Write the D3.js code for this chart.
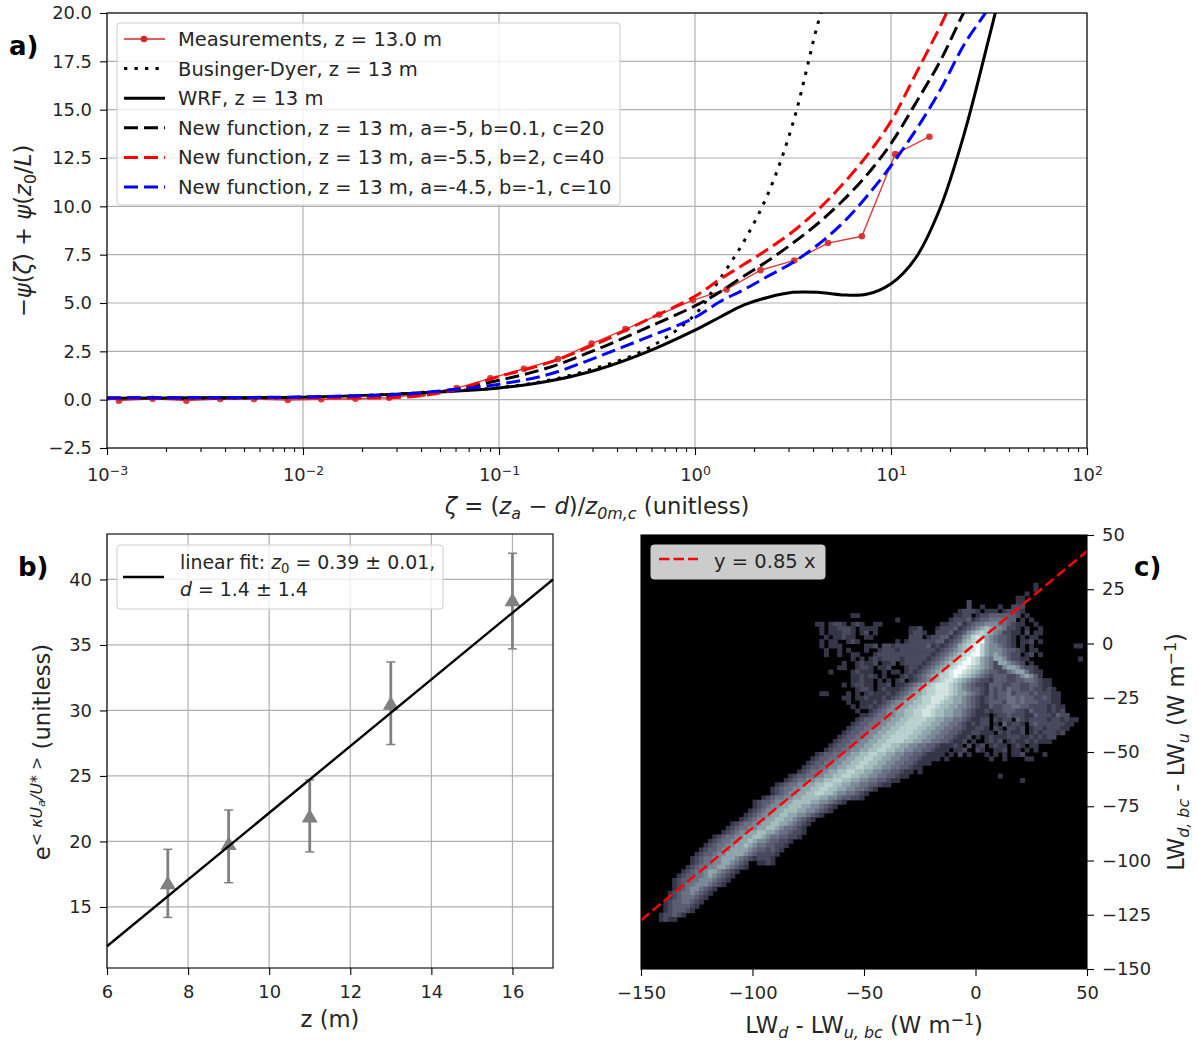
<!DOCTYPE html>
<html lang="en">
<head>
<meta charset="UTF-8">
<title>Stability function, roughness fit and longwave comparison</title>
<script src="https://d3js.org/d3.v7.min.js"></script>
<style>
  body { margin: 0; background: #fff; }
  svg text { font-family: "DejaVu Sans", sans-serif; fill: #262626; }
  .grid line { stroke: #b0b0b0; stroke-width: 1.2px; }
  .axis path, .axis line { stroke: #000; stroke-width: 1.1px; }
  .axis text { font-size: 17.9px; }
  .lab { font-size: 22.7px; }
  .leg { font-size: 19.5px; }
  .tag { font-size: 26px; font-weight: bold; fill: #000; }
</style>
</head>
<body>
<svg id="chart" width="1198" height="1041"></svg>
<script>
// ---- panel a data
const measX = [0.00115, 0.00171, 0.00254, 0.00378, 0.00562, 0.00836, 0.0124, 0.0185, 0.0275, 0.0409, 0.0608, 0.0904, 0.134, 0.2, 0.297, 0.442, 0.657, 0.977, 1.45, 2.16, 3.21, 4.77, 7.1, 10.5, 15.7];
const measY = [-0.05, 0.05, -0.05, 0.03, 0.03, -0.02, 0.02, 0.05, 0.1, 0.3, 0.6, 1.1, 1.6, 2.1, 2.9, 3.65, 4.4, 5.15, 5.7, 6.7, 7.2, 8.1, 8.45, 12.7, 13.6];
const curveX = [0.001, 0.00316, 0.01, 0.0316, 0.0562, 0.1, 0.178, 0.316, 0.562, 1, 1.33, 1.78, 2.37, 3.16, 4.22, 5.62, 7.5, 10, 13.3, 17.8, 23.7, 31.6, 36];
const wrfY = [0.07, 0.1, 0.13, 0.3, 0.42, 0.6, 0.95, 1.55, 2.45, 3.6, 4.25, 4.9, 5.3, 5.55, 5.55, 5.42, 5.45, 6.0, 7.3, 9.9, 13.8, 18.7, 21];
const newBlackY = [0.08, 0.1, 0.12, 0.2, 0.5, 1.0, 1.65, 2.6, 3.7, 4.85, 5.55, 6.4, 7.2, 8.1, 9.1, 10.25, 11.6, 13.25, 15.3, 17.5, 20.1, 22.5, 24];
const newRedY = [0.06, 0.09, 0.12, 0.12, 0.45, 1.2, 1.9, 2.9, 4.1, 5.35, 6.2, 7.0, 7.8, 8.7, 9.8, 11.1, 12.6, 14.4, 16.8, 19.3, 22, 25, 27];
const newBlueY = [0.09, 0.11, 0.14, 0.28, 0.5, 0.8, 1.3, 2.2, 3.2, 4.25, 5.05, 5.7, 6.4, 7.1, 8.0, 9.1, 10.5, 12.1, 13.9, 16, 18.4, 20.3, 21.5];
const bdX = [0.001, 0.00316, 0.01, 0.0316, 0.0562, 0.1, 0.178, 0.316, 0.562, 1, 1.33, 1.78, 2.37, 3.16, 4.22, 4.6];
const bdY = [0.05, 0.08, 0.12, 0.3, 0.45, 0.62, 1.0, 1.65, 2.6, 4.4, 6.2, 8.2, 10.7, 14.3, 19.4, 20.6];

// ---- panel b data
const heightZ = [7.5, 9, 11, 13, 16];
const heightVal = [16.7, 19.7, 21.8, 30.4, 38.3];
const heightLow = [14.2, 16.85, 19.2, 27.4, 34.7];
const heightHigh = [19.4, 22.4, 24.7, 33.7, 42];
const fitZ = [6, 17];
const fitVal = [12, 40];

// ---- panel c data: 2 W/m2 bins, [row from top, first column, density digits]
const heatSegments = [
  [11,88,"1"],[12,88,"1"],[13,86,"1"],[14,84,"11"],[15,73,"2"],[15,84,"11"],
  [16,73,"2"],[16,76,"1"],[16,80,"1"],[16,83,"222"],
  [17,71,"122210111012221"],
  [18,47,"11"],[18,70,"1122"],[18,75,"1223333332"],[18,86,"1"],
  [19,57,"1"],[19,69,"12223"],[19,74,"1233444433"],[19,85,"1010"],
  [20,39,"1101221012100110"],[20,67,"11223"],[20,72,"12344555443"],[20,83,"2110010"],
  [21,40,"10112221011110"],[21,60,"112"],[21,66,"12223"],[21,71,"12345676554"],[21,82,"22101001"],
  [22,40,"1011122101201"],[22,60,"1221"],[22,66,"2223"],[22,70,"12356787654"],[22,81,"221102011"],
  [23,41,"10112110011"],[23,60,"222"],[23,64,"12233"],[23,69,"1235689865"],[23,79,"4332101011"],
  [24,40,"101100121"],[24,57,"1"],[24,59,"122222233"],[24,68,"12346789a65"],[24,79,"43321011201"],
  [25,40,"10111"],[25,50,"112"],[25,54,"22122222223"],[25,65,"12"],[25,67,"12346789a865"],[25,79,"5432101010"],[25,97,"11"],
  [26,41,"100101"],[26,50,"1"],[26,53,"122212222"],[26,62,"2222"],[26,66,"123456789a865"],[26,79,"5543321011"],
  [27,41,"1"],[27,44,"1"],[27,47,"11"],[27,52,"12222222222"],[27,63,"22"],[27,65,"123456789aa865"],[27,79,"65432201201"],
  [28,47,"101"],[28,51,"1212222"],[28,58,"122222"],[28,64,"123456789a98654"],[28,79,"665322110"],[28,98,"1"],
  [29,45,"1"],[29,48,"12112"],[29,54,"112"],[29,58,"1222"],[29,62,"2"],[29,63,"123456789aa98654"],[29,79,"2665432010"],
  [30,44,"11"],[30,48,"1221"],[30,53,"112"],[30,59,"122"],[30,62,"123456789aa987654"],[30,79,"2256653221"],
  [31,42,"1"],[31,47,"12111"],[31,54,"1011"],[31,59,"12"],[31,61,"123456789aa9876543"],[31,79,"32245664211"],
  [32,47,"112121"],[32,54,"1"],[32,58,"12"],[32,60,"1234567889a98765432"],[32,79,"33322356531"],
  [33,47,"11211"],[33,53,"101"],[33,57,"12"],[33,60,"1234567899876543221"],[33,79,"3332233443211"],
  [34,45,"1"],[34,47,"12211"],[34,53,"112"],[34,57,"1"],[34,58,"12345678999876543221"],[34,78,"33322332233211"],
  [35,48,"1221"],[35,53,"1211"],[35,57,"123456788999876543321"],[35,78,"323243322322121"],
  [36,40,"11"],[36,46,"101"],[36,50,"1211"],[36,54,"12"],[36,56,"1234566788999876654321"],[36,78,"3233423332322211"],
  [37,45,"11"],[37,48,"11211"],[37,53,"12"],[37,55,"1234566788999876654321"],[37,77,"232334434332232"],[37,92,"11"],
  [38,46,"1"],[38,49,"11"],[38,51,"12"],[38,53,"123455667788998776654321"],[38,77,"2333244343332221"],[38,93,"1"],
  [39,47,"1"],[39,49,"1"],[39,50,"12"],[39,52,"1234556677889987766554321"],[39,77,"1322334433222212"],[39,93,"11"],
  [40,48,"1"],[40,51,"1234556677889987766554321"],[40,76,"1212233322132221"],[40,92,"212"],
  [41,49,"1"],[41,50,"12344556677889987766554321"],[41,76,"1101223222113222"],[41,92,"1322"],
  [42,48,"123344556677888877665544321"],[42,75,"1220212203212222"],[42,91,"12212110"],
  [43,47,"123344556677888877665544321"],[43,74,"212201031221023222"],[43,92,"22211"],
  [44,46,"1233445566778888776655443321"],[44,74,"122102102212012212"],[44,92,"2211"],
  [45,45,"1233445566778888776655443321"],[45,73,"1221110212112012122"],[45,92,"212"],
  [46,44,"1233445566778888776655443321"],[46,72,"120101211122211212"],[46,90,"122"],
  [47,43,"1233445566778888776655443321"],[47,71,"1201001212012112121"],[47,90,"11"],
  [48,42,"123344556677887766554433211"],[48,69,"12102012012110121"],[48,87,"11"],
  [49,41,"123344556677887766554433211"],[49,68,"101120021001"],[49,80,"1201101"],[49,88,"1"],
  [50,39,"123344556677887766554433211"],[50,66,"11010201"],[50,77,"1"],[50,79,"1"],[50,81,"10112"],[50,90,"1"],
  [51,38,"123344556677887766554433211"],[51,65,"1101"],[51,78,"1"],[51,81,"1"],[51,86,"11"],
  [52,37,"123344556677887766554433211"],[52,64,"1"],
  [53,36,"123344556677887766554433211"],
  [54,35,"12344556677887766554433211"],[54,62,"1"],
  [55,33,"123344556677887766554433211"],[55,80,"1"],
  [56,32,"12344556677887766554433211"],[56,85,"1"],
  [57,30,"12344556677887766554433211"],
  [58,29,"123445566778877665544321"],
  [59,29,"1234556677887765544321"],
  [60,27,"12344556677776655433221"],
  [61,25,"123345566777766554321"],
  [62,25,"1234556677766554321"],
  [63,24,"1234556677766554321"],
  [64,23,"123455667766554321"],
  [65,22,"12345566776654321"],
  [66,20,"123445566776654321"],
  [67,19,"123445566776544321"],
  [68,18,"1234556677665443221"],
  [69,16,"12344556677654433221"],
  [70,15,"1234455667655433221"],
  [71,14,"1234455667654433221"],
  [72,13,"1233455666654332321"],
  [73,12,"1233455666654322221"],
  [74,11,"12344556665432"],[74,25,"12221"],
  [75,11,"1234455665432"],[75,26,"1121"],
  [76,10,"12344556654321"],
  [77,9,"1234456654321"],
  [78,8,"1233445654321"],
  [79,7,"1233445554321"],
  [80,7,"123445554321"],
  [81,7,"1234554321"],
  [82,6,"1234454321"],
  [83,6,"123444321"],
  [84,5,"123344321"],
  [85,5,"12333321"],
  [86,5,"1233321"],
  [87,4,"122321"],
  [88,4,"1211"]
];
const heatLevels = ["1", "2", "3", "4", "5", "6", "7", "8", "9", "a"];
const heatColors = ["#363648", "#4a4a5e", "#5b5d72", "#6b7083", "#7c8a98", "#90a6ac", "#a5bfbf", "#bad3d0", "#d2e5e2", "#f6fcfb"];
const slopeX = [-150, 50];
const slopeY = [-127.5, 42.5];

const svg = d3.select("#chart");

// split a list of [text, kind] parts into tspans, kind: i italic, sub, sup, isub, isup, issub (sub inside a sup)
function mathText(el, parts, size) {
  let shift = 0;
  parts.forEach(p => {
    const kind = p[1] || "";
    const inner = kind.includes("ssub");
    const want = inner ? -size * 0.2 : kind.includes("sub") ? size * 0.22 : kind.includes("sup") ? -size * 0.36 : 0;
    el.append("tspan")
      .attr("dy", want - shift)
      .style("font-size", (inner ? size * 0.5 : want !== 0 ? size * 0.7 : size) + "px")
      .style("font-style", kind.includes("i") && kind !== "sup" && kind !== "sub" ? "italic" : null)
      .text(p[0]);
    shift = want;
  });
}

function gridLines(g, xs, ys, x, y) {
  const gr = g.append("g").attr("class", "grid");
  gr.selectAll(".gx").data(xs).join("line").attr("x1", x).attr("x2", x).attr("y1", y.range()[0]).attr("y2", y.range()[1]);
  gr.selectAll(".gy").data(ys).join("line").attr("y1", y).attr("y2", y).attr("x1", x.range()[0]).attr("x2", x.range()[1]);
}

function frame(x, y) {
  svg.append("rect").attr("x", x.range()[0]).attr("y", y.range()[1])
    .attr("width", x.range()[1] - x.range()[0]).attr("height", y.range()[0] - y.range()[1])
    .attr("fill", "none").attr("stroke", "#000").attr("stroke-width", 1.1);
}

function legendBox(x, y, w, h, fill) {
  svg.append("rect").attr("x", x).attr("y", y).attr("width", w).attr("height", h).attr("rx", 3)
    .attr("fill", fill).attr("stroke", "#ccc").attr("stroke-width", 1);
}

const dashLong = "14 6";
const dashDot = "3.3 7.2";

// ================= panel a
const xA = d3.scaleLog().domain([1e-3, 1e2]).range([107, 1087]);
const yA = d3.scaleLinear().domain([-2.5, 20]).range([448, 13]);
const decades = [1e-3, 1e-2, 1e-1, 1, 10, 100];
const yTicksA = d3.range(-2.5, 20.1, 2.5);
gridLines(svg.append("g"), decades, yTicksA, xA, yA);

svg.append("clipPath").attr("id", "clipA").append("rect").attr("x", 107).attr("y", 13).attr("width", 980).attr("height", 435);
const plotA = svg.append("g").attr("clip-path", "url(#clipA)");
const lineA = d3.line().x(d => xA(d[0])).y(d => yA(d[1])).curve(d3.curveCatmullRom.alpha(0.5));

plotA.append("path")
  .attr("d", d3.line().x(d => xA(d[0])).y(d => yA(d[1]))(d3.zip(measX, measY)))
  .attr("fill", "none").attr("stroke", "#d62728").attr("stroke-width", 1.4).attr("opacity", 0.9);
plotA.selectAll(".dot").data(d3.zip(measX, measY)).join("circle")
  .attr("cx", d => xA(d[0])).attr("cy", d => yA(d[1])).attr("r", 3.3).attr("fill", "#d62728").attr("opacity", 0.9);

const curves = [
  { xs: bdX, ys: bdY, color: "#000", dash: dashDot, w: 3 },
  { xs: curveX, ys: wrfY, color: "#000", dash: null, w: 3 },
  { xs: curveX, ys: newBlackY, color: "#000", dash: dashLong, w: 3 },
  { xs: curveX, ys: newRedY, color: "#f00", dash: dashLong, w: 3 },
  { xs: curveX, ys: newBlueY, color: "#00f", dash: dashLong, w: 3 }
];
curves.forEach(c => {
  plotA.append("path").attr("d", lineA(d3.zip(c.xs, c.ys))).attr("fill", "none")
    .attr("stroke", c.color).attr("stroke-width", c.w).attr("stroke-dasharray", c.dash);
});

const axXA = svg.append("g").attr("class", "axis").attr("transform", "translate(0,448)")
  .call(d3.axisBottom(xA).tickValues(decades).tickSize(7).tickPadding(10).tickFormat(d => ""));
axXA.select(".domain").remove();
axXA.selectAll(".tick text").each(function(d) {
  const t = d3.select(this).text(null).attr("y", 33).attr("dy", null);
  mathText(t, [["10"], [d3.format("d")(Math.log10(d)).replace("-", "\u2212"), "sup"]], 17.9);
});
const minorA = [];
decades.slice(0, 5).forEach(dc => d3.range(2, 10).forEach(k => minorA.push(dc * k)));
svg.append("g").attr("class", "axis").attr("transform", "translate(0,448)")
  .call(d3.axisBottom(xA).tickValues(minorA).tickSize(4).tickFormat(""))
  .select(".domain").remove();
svg.append("g").attr("class", "axis").attr("transform", "translate(107,0)")
  .call(d3.axisLeft(yA).tickValues(yTicksA).tickSize(7).tickPadding(8).tickFormat(d => d3.format(".1f")(d).replace("-", "\u2212")))
  .select(".domain").remove();
frame(xA, yA);

legendBox(117, 23, 503, 182, "rgba(255,255,255,0.8)");
const legA = [
  { label: "Measurements, z = 13.0 m", color: "#d62728", dash: null, w: 1.4, dot: true },
  { label: "Businger-Dyer, z = 13 m", color: "#000", dash: dashDot, w: 3 },
  { label: "WRF, z = 13 m", color: "#000", dash: null, w: 3 },
  { label: "New function, z = 13 m, a=-5, b=0.1, c=20", color: "#000", dash: dashLong, w: 3 },
  { label: "New function, z = 13 m, a=-5.5, b=2, c=40", color: "#f00", dash: dashLong, w: 3 },
  { label: "New function, z = 13 m, a=-4.5, b=-1, c=10", color: "#00f", dash: dashLong, w: 3 }
];
legA.forEach((d, i) => {
  const ly = 39 + i * 29.6;
  svg.append("line").attr("x1", 124).attr("x2", 165).attr("y1", ly).attr("y2", ly)
    .attr("stroke", d.color).attr("stroke-width", d.w).attr("stroke-dasharray", d.dash);
  if (d.dot) svg.append("circle").attr("cx", 144).attr("cy", ly).attr("r", 3.3).attr("fill", d.color);
  svg.append("text").attr("class", "leg").attr("x", 178).attr("y", ly + 7).text(d.label);
});

mathText(svg.append("text").attr("class", "lab").attr("x", 597).attr("y", 514).attr("text-anchor", "middle"),
  [["\u03b6", "i"], [" = ("], ["z", "i"], ["a", "isub"], [" \u2212 "], ["d", "i"], [")/"], ["z", "i"], ["0m,c", "isub"], [" (unitless)"]], 22.7);
mathText(svg.append("text").attr("class", "lab").attr("text-anchor", "middle").attr("transform", "translate(31,231) rotate(-90)"),
  [["\u2212"], ["\u03c8", "i"], ["("], ["\u03b6", "i"], [") + "], ["\u03c8", "i"], ["("], ["z", "i"], ["0", "sub"], ["/"], ["L", "i"], [")"]], 22.7);
svg.append("text").attr("class", "tag").attr("x", 9).attr("y", 55).text("a)");

// ================= panel b
const xB = d3.scaleLinear().domain([6, 17]).range([107, 553]);
const yB = d3.scaleLinear().domain([10.34, 43.47]).range([968, 534]);
const xTicksB = [6, 8, 10, 12, 14, 16];
const yTicksB = [15, 20, 25, 30, 35, 40];
gridLines(svg.append("g"), xTicksB, yTicksB, xB, yB);

const errGroup = svg.append("g");
heightZ.forEach((z, i) => {
  errGroup.append("line").attr("x1", xB(z)).attr("x2", xB(z)).attr("y1", yB(heightLow[i])).attr("y2", yB(heightHigh[i]))
    .attr("stroke", "#808080").attr("stroke-width", 2.8);
  [heightLow[i], heightHigh[i]].forEach(v => {
    errGroup.append("line").attr("x1", xB(z) - 4.5).attr("x2", xB(z) + 4.5).attr("y1", yB(v)).attr("y2", yB(v))
      .attr("stroke", "#808080").attr("stroke-width", 1.5);
  });
  errGroup.append("path").attr("d", d3.symbol(d3.symbolTriangle, 110)())
    .attr("transform", `translate(${xB(z)},${yB(heightVal[i])})`).attr("fill", "#808080");
});
svg.append("path").attr("d", d3.line().x(d => xB(d[0])).y(d => yB(d[1]))(d3.zip(fitZ, fitVal)))
  .attr("stroke", "#000").attr("stroke-width", 2.4).attr("fill", "none");

svg.append("g").attr("class", "axis").attr("transform", "translate(0,968)")
  .call(d3.axisBottom(xB).tickValues(xTicksB).tickSize(7).tickPadding(10)).select(".domain").remove();
svg.append("g").attr("class", "axis").attr("transform", "translate(107,0)")
  .call(d3.axisLeft(yB).tickValues(yTicksB).tickSize(7).tickPadding(8)).select(".domain").remove();
frame(xB, yB);

legendBox(117, 545, 326, 64, "rgba(255,255,255,0.8)");
svg.append("line").attr("x1", 123).attr("x2", 164).attr("y1", 577).attr("y2", 577).attr("stroke", "#000").attr("stroke-width", 2.4);
mathText(svg.append("text").attr("class", "leg").attr("x", 180).attr("y", 569),
  [["linear fit: "], ["z", "i"], ["0", "sub"], [" = 0.39 \u00b1 0.01,"]], 18.9);
mathText(svg.append("text").attr("class", "leg").attr("x", 180).attr("y", 596),
  [["d", "i"], [" = 1.4 \u00b1 1.4"]], 18.9);

svg.append("text").attr("class", "lab").attr("x", 330).attr("y", 1027).attr("text-anchor", "middle").text("z (m)");
mathText(svg.append("text").attr("class", "lab").attr("text-anchor", "middle").attr("transform", "translate(50,752) rotate(-90)"),
  [["e"], ["< ", "sup"], ["\u03baU", "isup"], ["a", "issub"], ["/U", "isup"], ["*", "sup"], [" >", "sup"], ["  (unitless)"]], 22.7);
svg.append("text").attr("class", "tag").attr("x", 18).attr("y", 576).text("b)");

// ================= panel c
const xC = d3.scaleLinear().domain([-150, 50]).range([641, 1087]);
const yC = d3.scaleLinear().domain([-150, 50]).range([969, 535]);
const colorC = d3.scaleOrdinal().domain(heatLevels).range(heatColors);
const ticksC = d3.range(-150, 51, 25);
const ticksCx = [-150, -100, -50, 0, 50];

svg.append("rect").attr("x", 641).attr("y", 535).attr("width", 446).attr("height", 434).attr("fill", "#000");
svg.append("clipPath").attr("id", "clipC").append("rect").attr("x", 641).attr("y", 535).attr("width", 446).attr("height", 434);
const cells = [];
heatSegments.forEach(s => {
  s[2].split("").forEach((c, k) => {
    if (c !== "0") cells.push({ col: s[1] + k, row: s[0], level: c });
  });
});
const heatG = svg.append("g").attr("clip-path", "url(#clipC)").append("g").style("filter", "blur(0.7px)");
heatG.selectAll("rect").data(cells).join("rect")
  .attr("x", d => xC(-150 + d.col * 2))
  .attr("y", d => yC(50 - d.row * 2))
  .attr("width", xC(2) - xC(0) + 0.6)
  .attr("height", yC(0) - yC(2) + 0.6)
  .attr("fill", d => colorC(d.level));
svg.append("path").attr("d", d3.line().x(d => xC(d[0])).y(d => yC(d[1]))(d3.zip(slopeX, slopeY)))
  .attr("clip-path", "url(#clipC)").attr("stroke", "#f00").attr("stroke-width", 2.5).attr("stroke-dasharray", "10.5 4.5").attr("fill", "none");

const fmtNeg = d => String(d).replace("-", "\u2212");
svg.append("g").attr("class", "axis").attr("transform", "translate(0,969)")
  .call(d3.axisBottom(xC).tickValues(ticksCx).tickSize(7).tickPadding(10).tickFormat(fmtNeg)).select(".domain").remove();
svg.append("g").attr("class", "axis").attr("transform", "translate(1087,0)")
  .call(d3.axisRight(yC).tickValues(ticksC).tickSize(7).tickPadding(8).tickFormat(fmtNeg)).select(".domain").remove();
frame(xC, yC);

legendBox(651, 545, 174, 34, "#cccccc");
svg.append("line").attr("x1", 659).attr("x2", 698).attr("y1", 559).attr("y2", 559)
  .attr("stroke", "#f00").attr("stroke-width", 2.5).attr("stroke-dasharray", "10.5 4");
svg.append("text").attr("class", "leg").attr("x", 714).attr("y", 568).text("y = 0.85 x");

mathText(svg.append("text").attr("class", "lab").attr("x", 864).attr("y", 1033).attr("text-anchor", "middle"),
  [["LW"], ["d", "isub"], [" - LW"], ["u, bc", "isub"], [" (W m"], ["\u22121", "sup"], [")"]], 22.7);
mathText(svg.append("text").attr("class", "lab").attr("text-anchor", "middle").attr("transform", "translate(1184,752) rotate(-90)"),
  [["LW"], ["d, bc", "isub"], [" - LW"], ["u", "isub"], [" (W m"], ["\u22121", "sup"], [")"]], 22.7);
svg.append("text").attr("class", "tag").attr("x", 1134).attr("y", 576).text("c)");
</script>
</body>
</html>
